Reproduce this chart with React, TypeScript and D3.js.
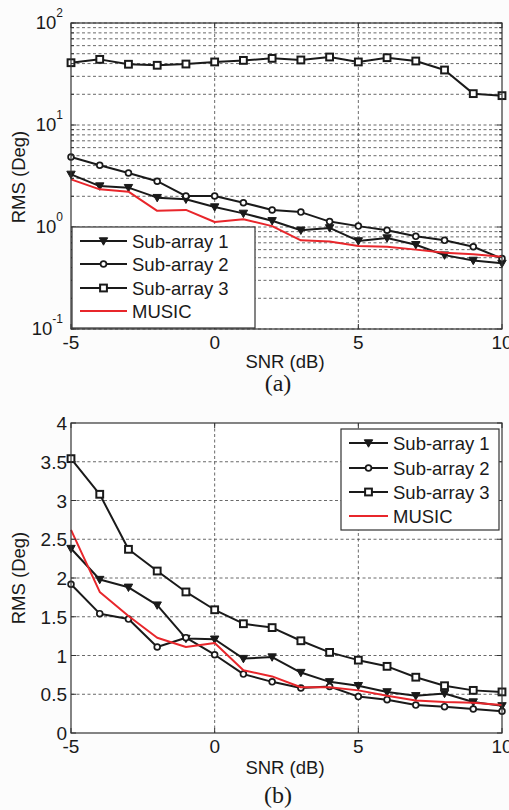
import React from "react";
import * as d3 from "d3";

const snr = [-5, -4, -3, -2, -1, 0, 1, 2, 3, 4, 5, 6, 7, 8, 9, 10];

// Panel (a) – log scale
const aSub1 = [3.28, 2.52, 2.43, 1.94, 1.87, 1.57, 1.36, 1.15, 0.93, 0.98, 0.73, 0.78, 0.67, 0.53, 0.47, 0.44];
const aSub2 = [4.86, 4.03, 3.38, 2.81, 2.01, 2.01, 1.73, 1.47, 1.4, 1.13, 1.02, 0.93, 0.81, 0.74, 0.64, 0.49];
const aSub3 = [40.8, 44, 39.4, 38.5, 39.6, 41.5, 43, 45, 43.4, 46.4, 41.5, 45.7, 42.4, 34.6, 20.3, 19.4];
const aMusic = [2.93, 2.34, 2.22, 1.44, 1.47, 1.12, 1.19, 1.02, 0.74, 0.72, 0.65, 0.64, 0.6, 0.56, 0.54, 0.51];

// Panel (b) – linear scale
const bSub1 = [2.38, 1.98, 1.88, 1.65, 1.22, 1.21, 0.96, 0.98, 0.78, 0.66, 0.61, 0.53, 0.48, 0.51, 0.4, 0.35];
const bSub2 = [1.92, 1.54, 1.47, 1.11, 1.23, 1.01, 0.76, 0.66, 0.58, 0.6, 0.47, 0.43, 0.36, 0.34, 0.31, 0.28];
const bSub3 = [3.54, 3.08, 2.37, 2.09, 1.82, 1.59, 1.41, 1.36, 1.19, 1.04, 0.94, 0.86, 0.72, 0.61, 0.55, 0.53];
const bMusic = [2.62, 1.82, 1.51, 1.23, 1.11, 1.16, 0.81, 0.73, 0.59, 0.59, 0.55, 0.48, 0.42, 0.4, 0.39, 0.36];

const seriesNames = ["Sub-array 1", "Sub-array 2", "Sub-array 3", "MUSIC"];
const markerTypes = ["tri", "circ", "sq", "none"];
const xTicks = [-5, 0, 5, 10];
const aYTickExps = [-1, 0, 1, 2];
const bYTicks = [0, 0.5, 1, 1.5, 2, 2.5, 3, 3.5, 4];

const FONT = "Liberation Sans, Arial, sans-serif";
const SERIF = "Liberation Serif, Times New Roman, serif";
const RED = "#e8262b";
const INK = "#1a1a1a";
const L = 71, R = 502;

function Marker({ type, x, y }: { type: string; x: number; y: number }) {
  if (type === "tri")
    return <path d={`M${x - 4.2},${y - 3.2}L${x + 4.2},${y - 3.2}L${x},${y + 4.2}Z`} fill={INK} stroke={INK} strokeWidth={1} />;
  if (type === "circ")
    return <circle cx={x} cy={y} r={2.9} fill="#fff" stroke={INK} strokeWidth={1.7} />;
  if (type === "sq")
    return <rect x={x - 3.4} y={y - 3.4} width={6.8} height={6.8} fill="#fff" stroke={INK} strokeWidth={2} />;
  return null;
}

function Series({ data, x, y, type, color }: any) {
  const line = d3.line<number>().x((_, i) => x(snr[i])).y((v) => y(v));
  return (
    <g>
      <path d={line(data) || ""} fill="none" stroke={color} strokeWidth={2} strokeLinejoin="round" />
      {type !== "none" && data.map((v: number, i: number) => <Marker key={i} type={type} x={x(snr[i])} y={y(v)} />)}
    </g>
  );
}

function Legend({ x0, y0, w, h, rows, lineX1, lineX2, textX }: any) {
  return (
    <g>
      <rect x={x0} y={y0} width={w} height={h} fill="#fff" stroke="#333" strokeWidth={1.2} />
      {seriesNames.map((n, i) => {
        const yy = rows[i];
        const color = i === 3 ? RED : INK;
        return (
          <g key={n}>
            <line x1={lineX1} x2={lineX2} y1={yy} y2={yy} stroke={color} strokeWidth={2} />
            <Marker type={markerTypes[i]} x={(lineX1 + lineX2) / 2} y={yy} />
            <text x={textX} y={yy + 6.5} fontSize={18.5} fontFamily={FONT} fill={INK}>{n}</text>
          </g>
        );
      })}
    </g>
  );
}

export default function App() {
  const x = d3.scaleLinear().domain([-5, 10]).range([L, R]);
  const yA = d3.scaleLog().domain([0.1, 100]).range([329, 23]);
  const yB = d3.scaleLinear().domain([0, 4]).range([733, 423]);

  const minorA: number[] = [];
  for (let e = -1; e < 2; e++) for (let k = 2; k <= 9; k++) minorA.push(k * Math.pow(10, e));

  const dash = "3,2.5";
  const gridColor = "#444";

  const aSeries = [aSub1, aSub2, aSub3, aMusic];
  const bSeries = [bSub1, bSub2, bSub3, bMusic];

  return (
    <div style={{ position: "absolute", left: 0, top: 0 }}>
      <svg width={509} height={810} style={{ display: "block", background: "#fcfcfc" }}>
        {/* ---------- Panel (a) ---------- */}
        <rect x={L} y={23} width={R - L} height={306} fill="#fff" />
        {minorA.map((v) => (
          <line key={"ma" + v} x1={L} x2={R} y1={yA(v)} y2={yA(v)} stroke={gridColor} strokeWidth={0.8} strokeDasharray={dash} />
        ))}
        {aYTickExps.map((e) => (
          <line key={"ga" + e} x1={L} x2={R} y1={yA(Math.pow(10, e))} y2={yA(Math.pow(10, e))} stroke={gridColor} strokeWidth={0.8} strokeDasharray={dash} />
        ))}
        {xTicks.slice(1, 3).map((t) => (
          <line key={"gxa" + t} x1={x(t)} x2={x(t)} y1={23} y2={329} stroke={gridColor} strokeWidth={0.8} strokeDasharray={dash} />
        ))}
        {aSeries.map((s, i) => (
          <Series key={i} data={s} x={x} y={yA} type={markerTypes[i]} color={i === 3 ? RED : INK} />
        ))}
        {xTicks.map((t) => (
          <g key={"xta" + t}>
            <line x1={x(t)} x2={x(t)} y1={329} y2={324} stroke="#333" />
            <line x1={x(t)} x2={x(t)} y1={23} y2={28} stroke="#333" />
            <text x={x(t)} y={349} textAnchor="middle" fontSize={19} fontFamily={FONT} fill={INK}>{t}</text>
          </g>
        ))}
        {minorA.map((v) => (
          <g key={"mta" + v}>
            <line x1={L} x2={L + 3} y1={yA(v)} y2={yA(v)} stroke="#333" />
            <line x1={R} x2={R - 3} y1={yA(v)} y2={yA(v)} stroke="#333" />
          </g>
        ))}
        {aYTickExps.map((e) => (
          <g key={"yta" + e}>
            <line x1={L} x2={L + 5} y1={yA(Math.pow(10, e))} y2={yA(Math.pow(10, e))} stroke="#333" />
            <line x1={R} x2={R - 5} y1={yA(Math.pow(10, e))} y2={yA(Math.pow(10, e))} stroke="#333" />
            <text x={63} y={yA(Math.pow(10, e)) + 5.5} textAnchor="end" fontSize={18.5} fontFamily={FONT} fill={INK}>
              10<tspan dy={-12} fontSize={12}>{e}</tspan>
            </text>
          </g>
        ))}
        <rect x={L} y={23} width={R - L} height={306} fill="none" stroke="#333" strokeWidth={1.2} />
        <Legend x0={72} y0={227} w={183} h={101} rows={[241, 264, 288, 311]} lineX1={80} lineX2={127} textX={132} />
        <text x={285} y={368} textAnchor="middle" fontSize={18.5} fontFamily={FONT} fill={INK}>SNR (dB)</text>
        <text transform={`translate(25,177) rotate(-90)`} textAnchor="middle" fontSize={18.5} fontFamily={FONT} fill={INK}>RMS (Deg)</text>
        <text x={278} y={391} textAnchor="middle" fontSize={24} fontFamily={SERIF} fill={INK}>(a)</text>

        {/* ---------- Panel (b) ---------- */}
        <rect x={L} y={423} width={R - L} height={310} fill="#fff" />
        {bYTicks.slice(1, -1).map((t) => (
          <line key={"gb" + t} x1={L} x2={R} y1={yB(t)} y2={yB(t)} stroke={gridColor} strokeWidth={0.8} strokeDasharray={dash} />
        ))}
        {xTicks.slice(1, 3).map((t) => (
          <line key={"gxb" + t} x1={x(t)} x2={x(t)} y1={423} y2={733} stroke={gridColor} strokeWidth={0.8} strokeDasharray={dash} />
        ))}
        {bSeries.map((s, i) => (
          <Series key={i} data={s} x={x} y={yB} type={markerTypes[i]} color={i === 3 ? RED : INK} />
        ))}
        {xTicks.map((t) => (
          <g key={"xtb" + t}>
            <line x1={x(t)} x2={x(t)} y1={733} y2={728} stroke="#333" />
            <line x1={x(t)} x2={x(t)} y1={423} y2={428} stroke="#333" />
            <text x={x(t)} y={753} textAnchor="middle" fontSize={19} fontFamily={FONT} fill={INK}>{t}</text>
          </g>
        ))}
        {bYTicks.map((t) => (
          <g key={"ytb" + t}>
            <line x1={L} x2={L + 5} y1={yB(t)} y2={yB(t)} stroke="#333" />
            <line x1={R} x2={R - 5} y1={yB(t)} y2={yB(t)} stroke="#333" />
            <text x={67} y={yB(t) + 7} textAnchor="end" fontSize={19} fontFamily={FONT} fill={INK}>{t}</text>
          </g>
        ))}
        <rect x={L} y={423} width={R - L} height={310} fill="none" stroke="#333" strokeWidth={1.2} />
        <Legend x0={341} y0={429} w={158} h={101} rows={[443, 468, 492, 516]} lineX1={349} lineX2={388} textX={393} />
        <text x={285} y={774} textAnchor="middle" fontSize={18.5} fontFamily={FONT} fill={INK}>SNR (dB)</text>
        <text transform={`translate(25,578) rotate(-90)`} textAnchor="middle" fontSize={18.5} fontFamily={FONT} fill={INK}>RMS (Deg)</text>
        <text x={278} y={803} textAnchor="middle" fontSize={24} fontFamily={SERIF} fill={INK}>(b)</text>
      </svg>
    </div>
  );
}
